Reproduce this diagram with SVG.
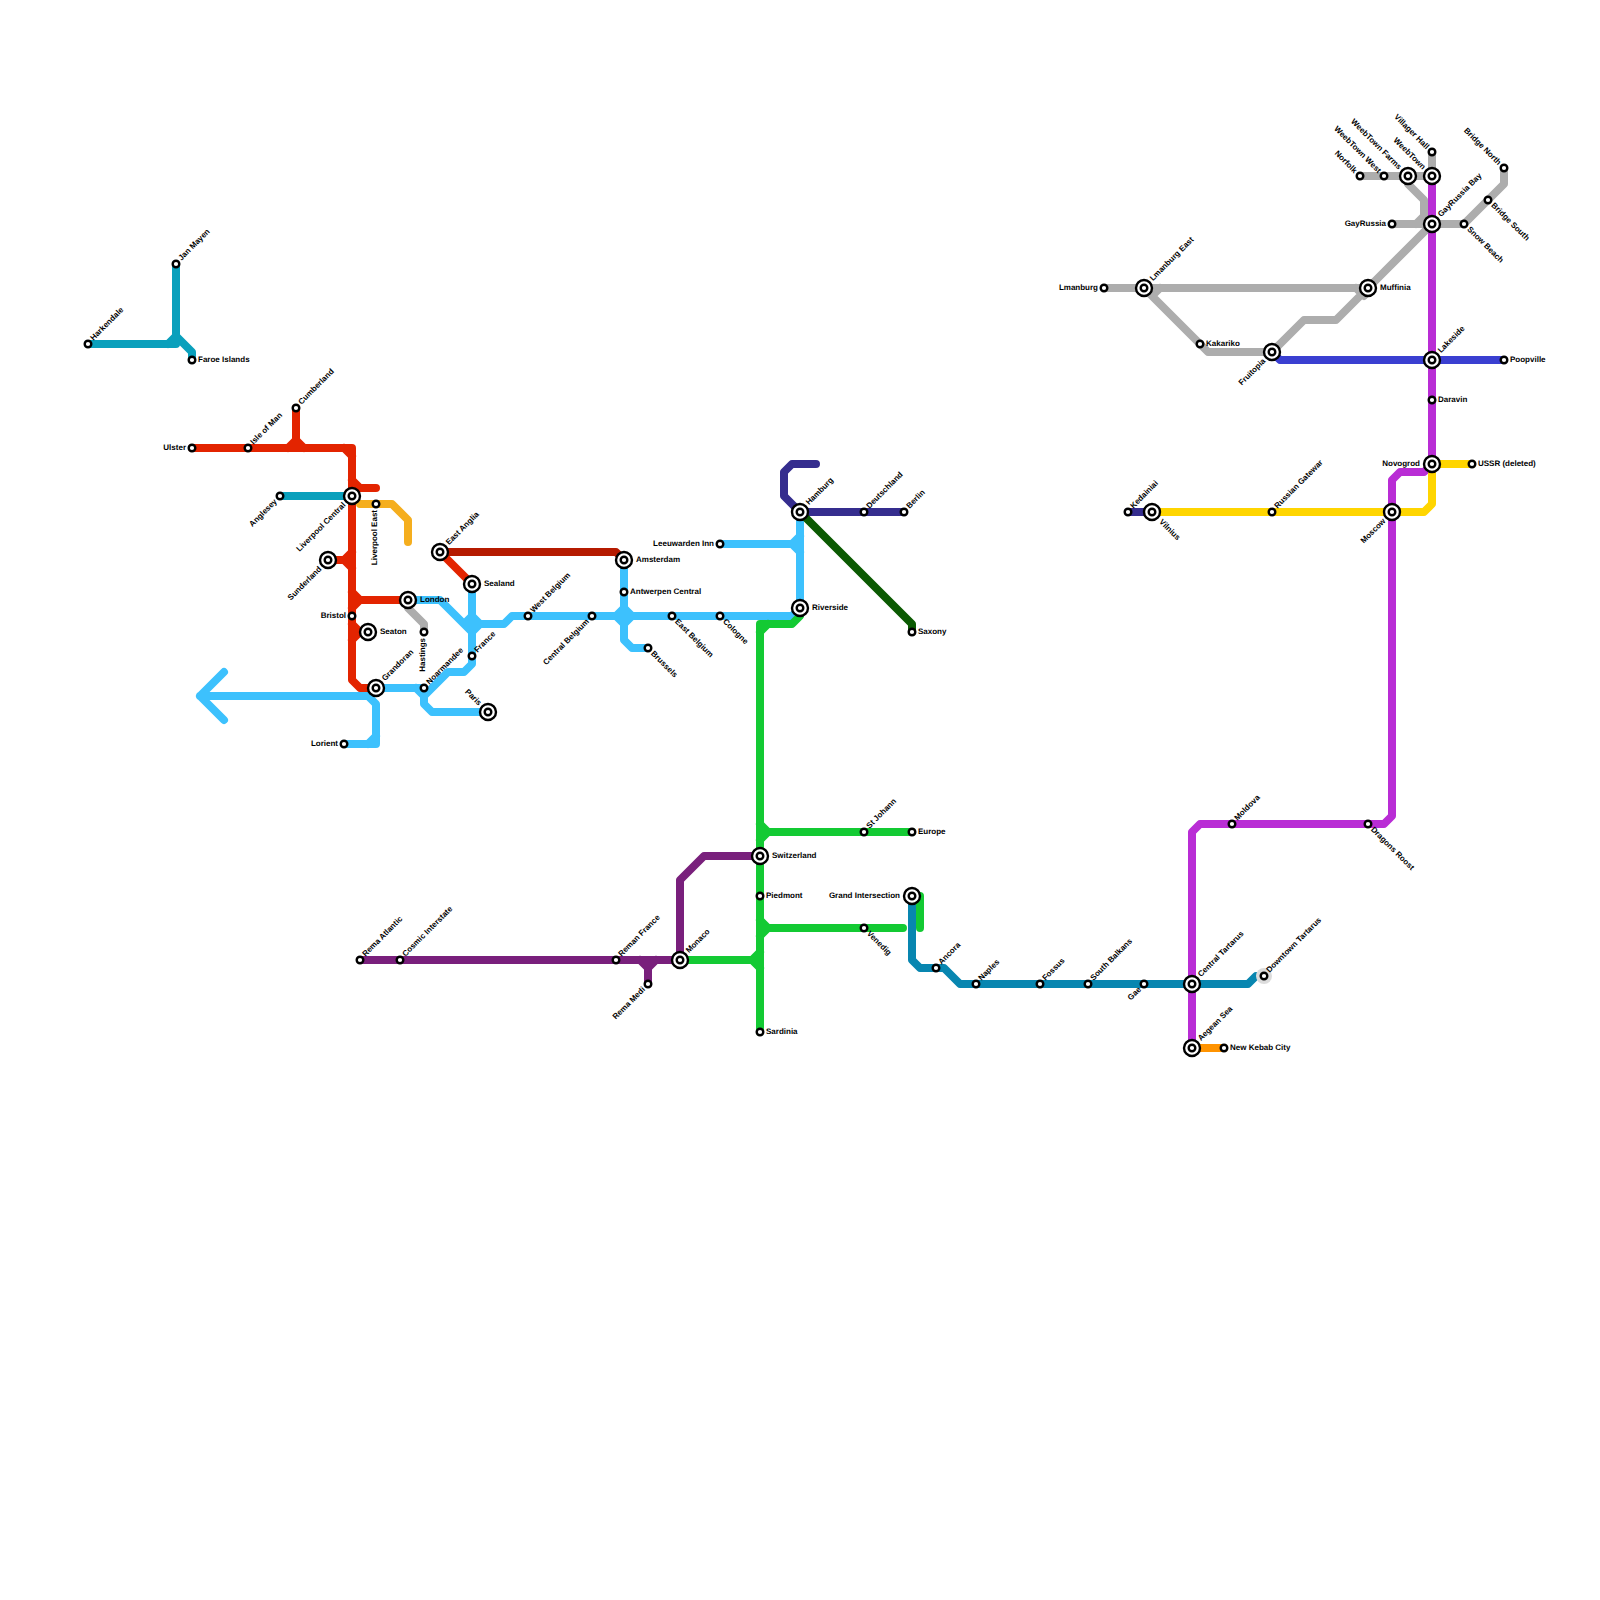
<svg xmlns="http://www.w3.org/2000/svg" width="1600" height="1600" viewBox="0 0 1600 1600">
<style>
.l{fill:none;stroke-width:8;stroke-linecap:round;stroke-linejoin:round}
.a{fill:#fff;stroke:#000;stroke-width:2.4}
.b{fill:#fff;stroke:#000;stroke-width:2.4}
text{font-family:"Liberation Sans",Arial,sans-serif;font-size:8px;font-weight:bold;fill:#000;text-rendering:geometricPrecision}
.w{text-anchor:end}
</style>
<rect width="1600" height="1600" fill="#fff"/>
<g id="connectors">
<path class="l" stroke="#0aa0bc" d="M88 344H176M168 344L176 336M176 264V336L192 352V360M280 496H352"/>
<path class="l" stroke="#3dc1fd" d="M408 600H440L472 632M472 584V664L464 672H448L424 696M376 688H424V704L432 712H488M416 688L424 696M224 672L200 696L224 720M200 696H368L376 704V744H344M368 744L376 736M464 624L472 616L480 624H504L512 616H792L800 608M472 632L480 624M624 560V640L632 648H648M616 616L624 608L632 616L624 624ZM720 544H792L800 536M792 544L800 552M800 512V608"/>
<path class="l" stroke="#e32400" d="M192 448H352V680L360 688H376M344 448L352 456M296 408V440M288 448L296 440L304 448M352 480L360 488H376M328 560H344L352 552M344 560L352 568M352 592L360 600L352 608M360 600H408M352 624L360 632L352 640M360 632H368M440 552L472 584"/>
<path class="l" stroke="#b51a00" d="M440 552H616L624 560"/>
<path class="l" stroke="#f5ae1e" d="M360 504H392L408 520V542"/>
<path class="l" stroke="#adadad" d="M408 600V608L424 624V632M1104 288H1368M1144 288L1208 352H1272M1152 296L1160 288M1272 352L1304 320H1336L1368 288L1432 224M1356 288L1364 296M1392 224H1464L1504 184V168M1360 176H1432V152M1408 176V184L1424 200V216L1432 224M1424 216L1416 224"/>
<path class="l" stroke="#352d8e" d="M800 512L784 496V472L792 464H816M800 512H904M1128 512H1152"/>
<path class="l" stroke="#0b5a02" d="M800 512L912 624V632"/>
<path class="l" stroke="#13ca33" d="M800 608V616L792 624H760V1032M760 632L768 624M760 824L768 832H912M768 832L760 840M760 920L768 928H903M768 928L760 936M680 960H752L760 952M752 960L760 968M920 896V928"/>
<path class="l" stroke="#79207c" d="M360 960H680M680 960V880L704 856H760M640 960L648 968V984M648 968L656 960"/>
<path class="l" stroke="#0886b0" d="M912 896V960L920 968H944L960 984H1248L1256 976H1264"/>
<path class="l" stroke="#b92dd5" d="M1192 1048V832L1200 824H1384L1392 816V480L1400 472H1424L1432 464V176"/>
<path class="l" stroke="#ffd500" d="M1152 512H1424L1432 504V464H1472"/>
<path class="l" stroke="#3a3fd1" d="M1272 352L1280 360H1504"/>
<path class="l" stroke="#ff9300" d="M1192 1048H1224"/>
</g>
<g id="n-harkendale"><circle class="a" cx="88" cy="344" r="3.3"/><text transform="translate(88 344) rotate(-45)" x="6" y="1.6">Harkendale</text></g>
<g id="n-jan-mayen"><circle class="a" cx="176" cy="264" r="3.3"/><text transform="translate(176 264) rotate(-45)" x="6" y="1.6">Jan Mayen</text></g>
<g id="n-faroe-islands"><circle class="a" cx="192" cy="360" r="3.3"/><text x="198" y="362">Faroe Islands</text></g>
<g id="n-ulster"><circle class="a" cx="192" cy="448" r="3.3"/><text class="w" x="186" y="450">Ulster</text></g>
<g id="n-isle-of-man"><circle class="a" cx="248" cy="448" r="3.3"/><text transform="translate(248 448) rotate(-45)" x="6" y="1.6">Isle of Man</text></g>
<g id="n-cumberland"><circle class="a" cx="296" cy="408" r="3.3"/><text transform="translate(296 408) rotate(-45)" x="6" y="1.6">Cumberland</text></g>
<g id="n-anglesey"><circle class="a" cx="280" cy="496" r="3.3"/><text class="w" transform="translate(280 496) rotate(-45)" x="-6" y="2.5">Anglesey</text></g>
<g id="n-liverpool-central"><circle class="b" cx="352" cy="496" r="8"/><circle class="a" cx="352" cy="496" r="3.3"/><text class="w" transform="translate(352 496) rotate(-45)" x="-11" y="2.5">Liverpool Central</text></g>
<g id="n-liverpool-east"><circle class="a" cx="376" cy="504" r="3.3"/><text class="w" transform="translate(376 504) rotate(-90)" x="-6" y="1">Liverpool East</text></g>
<g id="n-sunderland"><circle class="b" cx="328" cy="560" r="8"/><circle class="a" cx="328" cy="560" r="3.3"/><text class="w" transform="translate(328 560) rotate(-45)" x="-11" y="2.5">Sunderland</text></g>
<g id="n-london"><circle class="b" cx="408" cy="600" r="8"/><circle class="a" cx="408" cy="600" r="3.3"/><text x="420" y="602">London</text></g>
<g id="n-bristol"><circle class="a" cx="352" cy="616" r="3.3"/><text class="w" x="346" y="618">Bristol</text></g>
<g id="n-seaton"><circle class="b" cx="368" cy="632" r="8"/><circle class="a" cx="368" cy="632" r="3.3"/><text x="380" y="634">Seaton</text></g>
<g id="n-grandoran"><circle class="b" cx="376" cy="688" r="8"/><circle class="a" cx="376" cy="688" r="3.3"/><text transform="translate(376 688) rotate(-45)" x="11" y="1.6">Grandoran</text></g>
<g id="n-hastings"><circle class="a" cx="424" cy="632" r="3.3"/><text class="w" transform="translate(424 632) rotate(-90)" x="-6" y="1">Hastings</text></g>
<g id="n-noarmandee"><circle class="a" cx="424" cy="688" r="3.3"/><text transform="translate(424 688) rotate(-45)" x="6" y="1.6">Noarmandee</text></g>
<g id="n-france"><circle class="a" cx="472" cy="656" r="3.3"/><text transform="translate(472 656) rotate(-45)" x="6" y="1.6">France</text></g>
<g id="n-paris"><circle class="b" cx="488" cy="712" r="8"/><circle class="a" cx="488" cy="712" r="3.3"/><text class="w" transform="translate(488 712) rotate(45)" x="-11" y="2.5">Paris</text></g>
<g id="n-lorient"><circle class="a" cx="344" cy="744" r="3.3"/><text class="w" x="338" y="746">Lorient</text></g>
<g id="n-sealand"><circle class="b" cx="472" cy="584" r="8"/><circle class="a" cx="472" cy="584" r="3.3"/><text x="484" y="586">Sealand</text></g>
<g id="n-east-anglia"><circle class="b" cx="440" cy="552" r="8"/><circle class="a" cx="440" cy="552" r="3.3"/><text transform="translate(440 552) rotate(-45)" x="11" y="1.6">East Anglia</text></g>
<g id="n-west-belgium"><circle class="a" cx="528" cy="616" r="3.3"/><text transform="translate(528 616) rotate(-45)" x="6" y="1.6">West Belgium</text></g>
<g id="n-central-belgium"><circle class="a" cx="592" cy="616" r="3.3"/><text class="w" transform="translate(592 616) rotate(-45)" x="-6" y="2.5">Central Belgium</text></g>
<g id="n-amsterdam"><circle class="b" cx="624" cy="560" r="8"/><circle class="a" cx="624" cy="560" r="3.3"/><text x="636" y="562">Amsterdam</text></g>
<g id="n-antwerpen-central"><circle class="a" cx="624" cy="592" r="3.3"/><text x="630" y="594">Antwerpen Central</text></g>
<g id="n-east-belgium"><circle class="a" cx="672" cy="616" r="3.3"/><text transform="translate(672 616) rotate(45)" x="6" y="2.5">East Belgium</text></g>
<g id="n-cologne"><circle class="a" cx="720" cy="616" r="3.3"/><text transform="translate(720 616) rotate(45)" x="6" y="2.5">Cologne</text></g>
<g id="n-brussels"><circle class="a" cx="648" cy="648" r="3.3"/><text transform="translate(648 648) rotate(45)" x="6" y="2.5">Brussels</text></g>
<g id="n-leeuwarden-inn"><circle class="a" cx="720" cy="544" r="3.3"/><text class="w" x="714" y="546">Leeuwarden Inn</text></g>
<g id="n-hamburg"><circle class="b" cx="800" cy="512" r="8"/><circle class="a" cx="800" cy="512" r="3.3"/><text transform="translate(800 512) rotate(-45)" x="11" y="1.6">Hamburg</text></g>
<g id="n-riverside"><circle class="b" cx="800" cy="608" r="8"/><circle class="a" cx="800" cy="608" r="3.3"/><text x="812" y="610">Riverside</text></g>
<g id="n-deutschland"><circle class="a" cx="864" cy="512" r="3.3"/><text transform="translate(864 512) rotate(-45)" x="6" y="1.6">Deutschland</text></g>
<g id="n-berlin"><circle class="a" cx="904" cy="512" r="3.3"/><text transform="translate(904 512) rotate(-45)" x="6" y="1.6">Berlin</text></g>
<g id="n-saxony"><circle class="a" cx="912" cy="632" r="3.3"/><text x="918" y="634">Saxony</text></g>
<g id="n-st-johann"><circle class="a" cx="864" cy="832" r="3.3"/><text transform="translate(864 832) rotate(-45)" x="6" y="1.6">St Johann</text></g>
<g id="n-europe"><circle class="a" cx="912" cy="832" r="3.3"/><text x="918" y="834">Europe</text></g>
<g id="n-switzerland"><circle class="b" cx="760" cy="856" r="8"/><circle class="a" cx="760" cy="856" r="3.3"/><text x="772" y="858">Switzerland</text></g>
<g id="n-piedmont"><circle class="a" cx="760" cy="896" r="3.3"/><text x="766" y="898">Piedmont</text></g>
<g id="n-venedig"><circle class="a" cx="864" cy="928" r="3.3"/><text transform="translate(864 928) rotate(45)" x="6" y="2.5">Venedig</text></g>
<g id="n-grand-intersection"><circle class="b" cx="912" cy="896" r="8"/><circle class="a" cx="912" cy="896" r="3.3"/><text class="w" x="900" y="898">Grand Intersection</text></g>
<g id="n-ancora"><circle class="a" cx="936" cy="968" r="3.3"/><text transform="translate(936 968) rotate(-45)" x="6" y="1.6">Ancora</text></g>
<g id="n-naples"><circle class="a" cx="976" cy="984" r="3.3"/><text transform="translate(976 984) rotate(-45)" x="6" y="1.6">Naples</text></g>
<g id="n-reman-france"><circle class="a" cx="616" cy="960" r="3.3"/><text transform="translate(616 960) rotate(-45)" x="6" y="1.6">Reman France</text></g>
<g id="n-monaco"><circle class="b" cx="680" cy="960" r="8"/><circle class="a" cx="680" cy="960" r="3.3"/><text transform="translate(680 960) rotate(-45)" x="11" y="1.6">Monaco</text></g>
<g id="n-rema-medi"><circle class="a" cx="648" cy="984" r="3.3"/><text class="w" transform="translate(648 984) rotate(-45)" x="-6" y="2.5">Rema Medi</text></g>
<g id="n-sardinia"><circle class="a" cx="760" cy="1032" r="3.3"/><text x="766" y="1034">Sardinia</text></g>
<g id="n-rema-atlantic"><circle class="a" cx="360" cy="960" r="3.3"/><text transform="translate(360 960) rotate(-45)" x="6" y="1.6">Rema Atlantic</text></g>
<g id="n-cosmic-interstate"><circle class="a" cx="400" cy="960" r="3.3"/><text transform="translate(400 960) rotate(-45)" x="6" y="1.6">Cosmic Interstate</text></g>
<g id="n-fossus"><circle class="a" cx="1040" cy="984" r="3.3"/><text transform="translate(1040 984) rotate(-45)" x="6" y="1.6">Fossus</text></g>
<g id="n-south-balkans"><circle class="a" cx="1088" cy="984" r="3.3"/><text transform="translate(1088 984) rotate(-45)" x="6" y="1.6">South Balkans</text></g>
<g id="n-gae"><circle class="a" cx="1144" cy="984" r="3.3"/><text class="w" transform="translate(1144 984) rotate(-45)" x="-6" y="2.5">Gae</text></g>
<g id="n-central-tartarus"><circle class="b" cx="1192" cy="984" r="8"/><circle class="a" cx="1192" cy="984" r="3.3"/><text transform="translate(1192 984) rotate(-45)" x="11" y="1.6">Central Tartarus</text></g>
<g id="n-downtown-tartarus"><circle cx="1264" cy="976" r="8" fill="#dcdcdc"/><circle class="a" cx="1264" cy="976" r="3.3"/><text transform="translate(1264 976) rotate(-45)" x="6" y="1.6">Downtown Tartarus</text></g>
<g id="n-aegean-sea"><circle class="b" cx="1192" cy="1048" r="8"/><circle class="a" cx="1192" cy="1048" r="3.3"/><text transform="translate(1192 1048) rotate(-45)" x="11" y="1.6">Aegean Sea</text></g>
<g id="n-new-kebab-city"><circle class="a" cx="1224" cy="1048" r="3.3"/><text x="1230" y="1050">New Kebab City</text></g>
<g id="n-moldova"><circle class="a" cx="1232" cy="824" r="3.3"/><text transform="translate(1232 824) rotate(-45)" x="6" y="1.6">Moldova</text></g>
<g id="n-dragons-roost"><circle class="a" cx="1368" cy="824" r="3.3"/><text transform="translate(1368 824) rotate(45)" x="6" y="2.5">Dragons Roost</text></g>
<g id="n-norfolk"><circle class="a" cx="1360" cy="176" r="3.3"/><text class="w" transform="translate(1360 176) rotate(45)" x="-6" y="2.5">Norfolk</text></g>
<g id="n-weebtown-west"><circle class="a" cx="1384" cy="176" r="3.3"/><text class="w" transform="translate(1384 176) rotate(45)" x="-6" y="2.5">WeebTown West</text></g>
<g id="n-weebtown-farms"><circle class="b" cx="1408" cy="176" r="8"/><circle class="a" cx="1408" cy="176" r="3.3"/><text class="w" transform="translate(1408 176) rotate(45)" x="-11" y="2.5">WeebTown Farms</text></g>
<g id="n-weebtown"><circle class="b" cx="1432" cy="176" r="8"/><circle class="a" cx="1432" cy="176" r="3.3"/><text class="w" transform="translate(1432 176) rotate(45)" x="-11" y="2.5">WeebTown</text></g>
<g id="n-villager-hall"><circle class="a" cx="1432" cy="152" r="3.3"/><text class="w" transform="translate(1432 152) rotate(45)" x="-6" y="2.5">Villager Hall</text></g>
<g id="n-gayrussia"><circle class="a" cx="1392" cy="224" r="3.3"/><text class="w" x="1386" y="226">GayRussia</text></g>
<g id="n-gayrussia-bay"><circle class="b" cx="1432" cy="224" r="8"/><circle class="a" cx="1432" cy="224" r="3.3"/><text transform="translate(1432 224) rotate(-45)" x="11" y="1.6">GayRussia Bay</text></g>
<g id="n-snow-beach"><circle class="a" cx="1464" cy="224" r="3.3"/><text transform="translate(1464 224) rotate(45)" x="6" y="2">Snow Beach</text></g>
<g id="n-bridge-south"><circle class="a" cx="1488" cy="200" r="3.3"/><text transform="translate(1488 200) rotate(45)" x="6" y="2">Bridge South</text></g>
<g id="n-bridge-north"><circle class="a" cx="1504" cy="168" r="3.3"/><text class="w" transform="translate(1504 168) rotate(45)" x="-6" y="2.5">Bridge North</text></g>
<g id="n-muffinia"><circle class="b" cx="1368" cy="288" r="8"/><circle class="a" cx="1368" cy="288" r="3.3"/><text x="1380" y="290">Muffinia</text></g>
<g id="n-lakeside"><circle class="b" cx="1432" cy="360" r="8"/><circle class="a" cx="1432" cy="360" r="3.3"/><text transform="translate(1432 360) rotate(-45)" x="11" y="1.6">Lakeside</text></g>
<g id="n-poopville"><circle class="a" cx="1504" cy="360" r="3.3"/><text x="1510" y="362">Poopville</text></g>
<g id="n-lmanburg"><circle class="a" cx="1104" cy="288" r="3.3"/><text class="w" x="1098" y="290">Lmanburg</text></g>
<g id="n-lmanburg-east"><circle class="b" cx="1144" cy="288" r="8"/><circle class="a" cx="1144" cy="288" r="3.3"/><text transform="translate(1144 288) rotate(-45)" x="11" y="1.6">Lmanburg East</text></g>
<g id="n-kakariko"><circle class="a" cx="1200" cy="344" r="3.3"/><text x="1206" y="346">Kakariko</text></g>
<g id="n-fruitopia"><circle class="b" cx="1272" cy="352" r="8"/><circle class="a" cx="1272" cy="352" r="3.3"/><text class="w" transform="translate(1272 352) rotate(-45)" x="-11" y="2.5">Fruitopia</text></g>
<g id="n-daravin"><circle class="a" cx="1432" cy="400" r="3.3"/><text x="1438" y="402">Daravin</text></g>
<g id="n-novogrod"><circle class="b" cx="1432" cy="464" r="8"/><circle class="a" cx="1432" cy="464" r="3.3"/><text class="w" x="1420" y="466">Novogrod</text></g>
<g id="n-moscow"><circle class="b" cx="1392" cy="512" r="8"/><circle class="a" cx="1392" cy="512" r="3.3"/><text class="w" transform="translate(1392 512) rotate(-45)" x="-11" y="2.5">Moscow</text></g>
<g id="n-russian-gatewar"><circle class="a" cx="1272" cy="512" r="3.3"/><text transform="translate(1272 512) rotate(-45)" x="6" y="1.6">Russian Gatewar</text></g>
<g id="n-kedainiai"><circle class="a" cx="1128" cy="512" r="3.3"/><text transform="translate(1128 512) rotate(-45)" x="6" y="1.6">Kedainiai</text></g>
<g id="n-vilnius"><circle class="b" cx="1152" cy="512" r="8"/><circle class="a" cx="1152" cy="512" r="3.3"/><text transform="translate(1152 512) rotate(45)" x="12" y="2.5">Vilnius</text></g>
<g id="n-ussr-deleted"><circle class="a" cx="1472" cy="464" r="3.3"/><text x="1478" y="466">USSR (deleted)</text></g>
</svg>
